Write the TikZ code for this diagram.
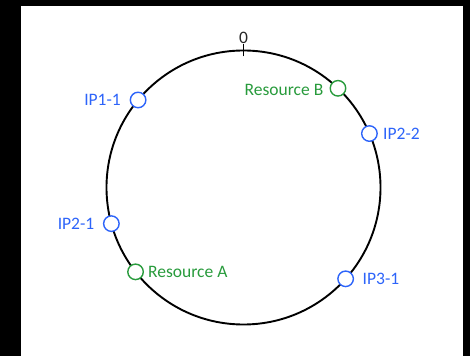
\documentclass[tikz,border=0pt]{standalone}
\usepackage{fontspec}
\setmainfont{Carlito}
\usetikzlibrary{calc}
\definecolor{ipblue}{RGB}{45,100,250}
\definecolor{resgreen}{RGB}{40,155,60}
\begin{document}
\begin{tikzpicture}[x=1pt,y=1pt,
  marker/.style={circle,draw,fill=white,line width=1.4pt,minimum size=15.5pt,inner sep=0pt},
  ipm/.style={marker,draw=ipblue},
  resm/.style={marker,draw=resgreen},
  lbl/.style={font=\fontsize{17.5}{20}\selectfont,inner sep=0pt},
  iplbl/.style={lbl,text=ipblue},
  reslbl/.style={lbl,text=resgreen}]
\fill[black] (0,0) rectangle (470,356);
\fill[white] (21,0) rectangle (463,350);
\useasboundingbox (0,0) rectangle (470,356);
\coordinate (c) at (243.5,168.5);
\draw[line width=1.9pt] (c) circle[radius=137];
\draw[line width=1.2pt] ($(c)+(0,131)$) -- ($(c)+(0,143)$);
\node[lbl,text=black!85] (zero) at (243.5,318.5) {0};
\node[resm] (rb) at ($(c)+(46.4:137)$) {};
\node[ipm] (ip11) at ($(c)+(140.3:137)$) {};
\node[ipm] (ip22) at ($(c)+(23.2:137)$) {};
\node[ipm] (ip31) at ($(c)+(-41.8:137)$) {};
\node[ipm] (ip21) at ($(c)+(195.3:137)$) {};
\node[resm] (ra) at ($(c)+(218:137)$) {};
\node[reslbl,anchor=east] (rbl) at (323.5,266) {Resource B};
\node[iplbl,anchor=east] (ip11l) at (121,256) {IP1-1};
\node[iplbl,anchor=west] (ip22l) at (383,222) {IP2-2};
\node[iplbl,anchor=west] (ip31l) at (362.5,77) {IP3-1};
\node[iplbl,anchor=east] (ip21l) at (94.5,132) {IP2-1};
\node[reslbl,anchor=west] (ral) at (148,84.5) {Resource A};
\end{tikzpicture}
\end{document}
